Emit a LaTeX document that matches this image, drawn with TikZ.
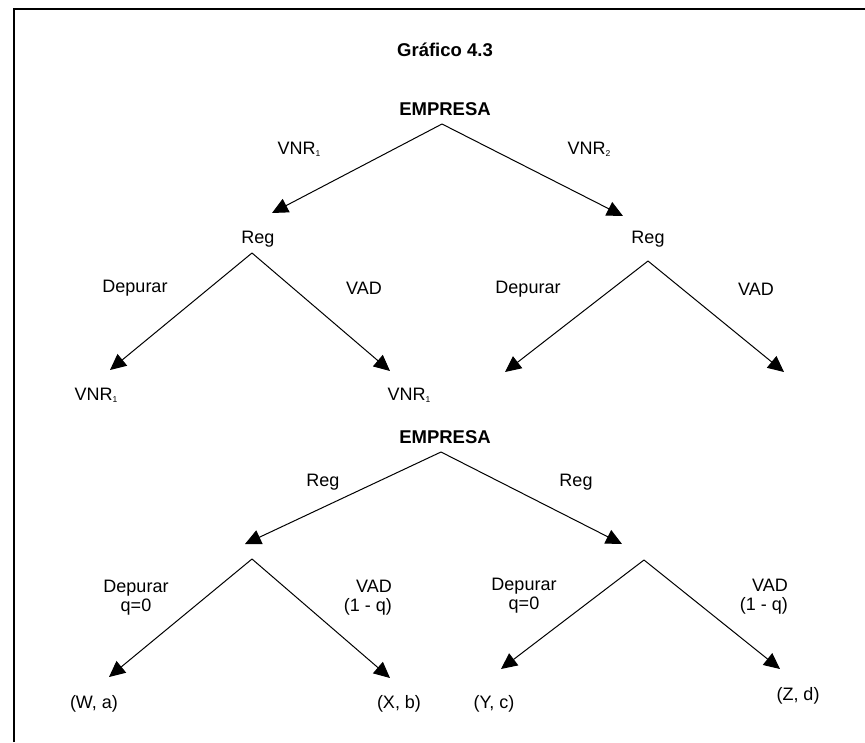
\documentclass[tikz,border=0pt]{standalone}
\usepackage{fontspec}
\setmainfont{Liberation Sans}
\usetikzlibrary{arrows.meta}
\newcommand{\sbs}[1]{\raisebox{-0.25ex}{\fontsize{8.5}{8.5}\selectfont #1}}
\tikzset{
  lbl/.style={inner sep=0pt, font=\fontsize{18}{21}\selectfont, align=center},
  bold/.style={lbl, font=\fontsize{18.5}{21}\selectfont\bfseries},
  arr/.style={line width=1.0pt, -{Triangle[length=16pt,width=15pt]}},
  frame/.style={line width=1.6pt}
}
\begin{document}
\begin{tikzpicture}[x=1pt,y=-1pt]
\useasboundingbox (0,0) rectangle (865,742);
% frame
\coordinate (fL) at (14,742);
\coordinate (fC) at (14,9);
\coordinate (fR) at (865,9);
\draw[frame] (fL) -- (fC) -- (fR);

\node[bold] (title) at (445,50) {Gráfico 4.3};

% ---- upper tree ----
\node[bold] (emp1) at (445,109) {EMPRESA};
\coordinate (a1) at (442,124);
\coordinate (t1L) at (272,213);
\coordinate (t1R) at (623,216);
\draw[arr] (a1) -- (t1L);
\draw[arr] (a1) -- (t1R);
\node[lbl] (v1) at (299,149) {VNR\sbs{1}};
\node[lbl] (v2) at (589,149) {VNR\sbs{2}};
\node[lbl] (regL) at (258,239) {Reg};
\node[lbl] (regR) at (648,239) {Reg};

\coordinate (a2) at (252,253);
\coordinate (t2L) at (110,370);
\coordinate (t2R) at (390,371);
\draw[arr] (a2) -- (t2L);
\draw[arr] (a2) -- (t2R);
\node[lbl] (d2) at (135,288) {Depurar};
\node[lbl] (vad2) at (364,288) {VAD};
\node[lbl] (o2L) at (96,395) {VNR\sbs{1}};
\node[lbl] (o2R) at (409,395) {VNR\sbs{1}};

\coordinate (a3) at (648,261);
\coordinate (t3L) at (505,372);
\coordinate (t3R) at (784,372);
\draw[arr] (a3) -- (t3L);
\draw[arr] (a3) -- (t3R);
\node[lbl] (d3) at (528,289) {Depurar};
\node[lbl] (vad3) at (756,289) {VAD};

% ---- lower tree ----
\node[bold] (emp2) at (445,437) {EMPRESA};
\coordinate (b1) at (441,452);
\coordinate (s1L) at (245,544);
\coordinate (s1R) at (622,544);
\draw[arr] (b1) -- (s1L);
\draw[arr] (b1) -- (s1R);
\node[lbl] (rg1) at (323,482) {Reg};
\node[lbl] (rg2) at (576,482) {Reg};

\coordinate (b2) at (252,559);
\coordinate (s2L) at (109,677);
\coordinate (s2R) at (390,678);
\draw[arr] (b2) -- (s2L);
\draw[arr] (b2) -- (s2R);
\node[lbl] (d4) at (136,598) {Depurar\\[-2pt]q=0};
\node[lbl, align=right, anchor=east] (vad4) at (392,598) {VAD\\[-2pt](1 - q)};
\node[lbl] (wa) at (94,704) {(W, a)};
\node[lbl] (xb) at (399,704) {(X, b)};

\coordinate (b3) at (644,560);
\coordinate (s3L) at (501,669);
\coordinate (s3R) at (780,669);
\draw[arr] (b3) -- (s3L);
\draw[arr] (b3) -- (s3R);
\node[lbl] (d5) at (524,596) {Depurar\\[-2pt]q=0};
\node[lbl, align=right, anchor=east] (vad5) at (788,597) {VAD\\[-2pt](1 - q)};
\node[lbl] (yc) at (494,704) {(Y, c)};
\node[lbl] (zd) at (798,696) {(Z, d)};
\end{tikzpicture}
\end{document}
